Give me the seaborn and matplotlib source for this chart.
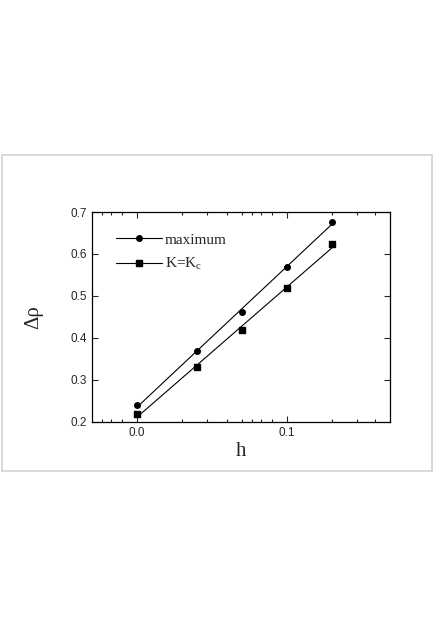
import numpy as np
import pandas as pd
import seaborn as sns
from matplotlib import pyplot as plt
from matplotlib.lines import Line2D
from matplotlib.patches import Rectangle
from matplotlib.ticker import FixedLocator

h_vals = [0.0, 0.04, 0.07, 0.10, 0.13]
rho_max = [0.240, 0.368, 0.462, 0.570, 0.676]
rho_kc = [0.220, 0.330, 0.420, 0.519, 0.623]
x_ticks = [0.0, 0.1]
x_minor = [-0.023, -0.017, -0.01, 0.03, 0.047, 0.06, 0.07, 0.077, 0.083, 0.09, 0.13, 0.147, 0.159]
y_ticks = [0.2, 0.3, 0.4, 0.5, 0.6, 0.7]

df = pd.DataFrame({'h': h_vals, 'maximum': rho_max, 'kc': rho_kc})

sns.set_style('ticks')
plt.rcParams['font.family'] = ['Liberation Sans', 'DejaVu Sans']
plt.rcParams['mathtext.fontset'] = 'custom'
plt.rcParams['mathtext.rm'] = 'Liberation Serif'
plt.rcParams['mathtext.it'] = 'Liberation Serif:italic'

fig = plt.figure(figsize=(4.36, 6.27), dpi=100)
fig.patches.append(Rectangle((2 / 436, 1 - 471 / 627), 430 / 436, 316 / 627,
                             transform=fig.transFigure, fill=False,
                             edgecolor='#d2d2d2', linewidth=1.2))
ax = fig.add_axes([92 / 436, 1 - 422 / 627, 298 / 436, 210 / 627])

sns.regplot(data=df, x='h', y='maximum', ax=ax, ci=None, color='black', marker='o',
            scatter_kws={'s': 16, 'zorder': 3, 'alpha': 1}, line_kws={'linewidth': 0.8})
sns.regplot(data=df, x='h', y='kc', ax=ax, ci=None, color='black', marker='s',
            scatter_kws={'s': 20, 'zorder': 3, 'alpha': 1}, line_kws={'linewidth': 0.8})

ax.set_xlim(-0.03, 0.1687)
ax.set_ylim(0.2, 0.7)
ax.set_xticks(x_ticks)
ax.set_xticklabels(['0.0', '0.1'])
ax.xaxis.set_minor_locator(FixedLocator(x_minor))
ax.set_yticks(y_ticks)
ax.set_yticklabels(['%.1f' % v for v in y_ticks])
ax.tick_params(which='both', direction='in', top=True, right=True, labelsize=8.5, width=0.8)
ax.tick_params(which='major', length=4)
ax.tick_params(which='minor', length=2.5)
for s in ax.spines.values():
    s.set_linewidth(0.9)
    s.set_color('black')

ax.set_xlabel('h', family='Liberation Serif', fontsize=15, labelpad=2)
ax.set_ylabel('Δρ', family='Liberation Serif', fontsize=15, labelpad=20)

handles = [Line2D([], [], color='black', linewidth=0.8, marker='o', markersize=4),
           Line2D([], [], color='black', linewidth=0.8, marker='s', markersize=4.5)]
ax.legend(handles, ['maximum', r'K=K$_\mathrm{c}$'], loc='upper left',
          bbox_to_anchor=(0.035, 0.965), frameon=False, handlelength=3.0,
          handletextpad=0.2, labelspacing=0.6,
          prop={'family': 'Liberation Serif', 'size': 11})

fig.savefig('out.png', dpi=100)
